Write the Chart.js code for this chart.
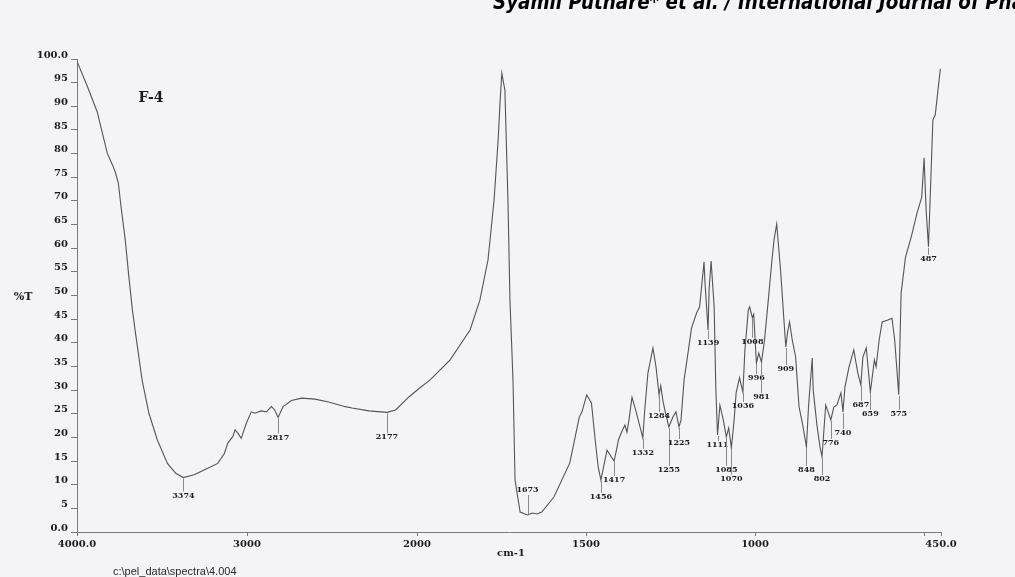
<!DOCTYPE html>
<html>
<head>
<meta charset="utf-8">
<title>FTIR spectrum F-4</title>
<script src="https://cdn.jsdelivr.net/npm/chart.js@4/dist/chart.umd.min.js"></script>
<style>
  html, body { margin: 0; padding: 0; background: #f3f3f8; }
  #wrap { position: relative; width: 1015px; height: 577px; overflow: hidden; }
</style>
</head>
<body>
<div id="wrap"><canvas id="spectrum"></canvas></div>
<script>
// Wavenumber (cm-1) of each sampled point, high to low
const wavenumbers = [
  4000, 3940, 3881, 3822, 3790, 3775, 3757, 3740, 3716, 3695,
  3674, 3656, 3617, 3577, 3528, 3468, 3419, 3374, 3311, 3231,
  3172, 3133, 3113, 3083, 3070, 3054, 3034, 3004, 2975, 2955,
  2916, 2886, 2856, 2837, 2817, 2788, 2738, 2679, 2600, 2520,
  2422, 2382, 2283, 2177, 2126, 2046, 1993, 1962, 1902, 1843,
  1814, 1790, 1772, 1760, 1754, 1749, 1740, 1731, 1725, 1716,
  1710, 1695, 1673, 1659, 1645, 1631, 1595, 1548, 1520, 1512,
  1498, 1484, 1473, 1464, 1456, 1450, 1438, 1417, 1410, 1404,
  1395, 1385, 1379, 1373, 1364, 1351, 1332, 1327, 1317, 1311,
  1302, 1293, 1284, 1279, 1272, 1265, 1255, 1243, 1234, 1225,
  1219, 1210, 1197, 1188, 1173, 1164, 1151, 1148, 1139, 1136,
  1130, 1121, 1116, 1111, 1104, 1094, 1085, 1078, 1070, 1062,
  1056, 1046, 1036, 1030, 1020, 1016, 1008, 1004, 996, 989,
  981, 972, 960, 950, 944, 936, 924, 914, 909, 904,
  898, 890, 880, 870, 859, 848, 842, 831, 828, 817,
  808, 802, 791, 784, 776, 767, 758, 746, 740, 734,
  722, 708, 696, 687, 681, 671, 659, 647, 642, 633,
  624, 607, 595, 587, 575, 568, 555, 538, 521, 507,
  500, 494, 487, 474, 467, 452
];

// %T at each wavenumber above
const transmittance = [
  99.5, 94.3, 88.8, 80.1, 77.5, 76.1, 73.8, 68.5, 61.7, 54.0,
  46.9, 42.1, 32.1, 25.1, 19.5, 14.5, 12.4, 11.5, 12.1, 13.5,
  14.5, 16.6, 18.8, 20.2, 21.6, 20.9, 19.8, 23.0, 25.4, 25.1,
  25.6, 25.4, 26.5, 25.8, 24.2, 26.5, 27.8, 28.3, 28.1, 27.5,
  26.5, 26.2, 25.6, 25.3, 25.8, 28.6, 30.4, 32.1, 36.4, 42.7,
  49.0, 57.5, 70.2, 82.9, 91.3, 97.0, 93.4, 70.2, 49.0, 32.1,
  11.0, 4.2, 3.6, 4.0, 3.8, 4.2, 7.4, 14.6, 24.3, 25.4,
  29.0, 27.3, 19.5, 13.7, 11.0, 13.1, 17.3, 15.0, 17.3, 19.5,
  21.1, 22.6, 21.1, 23.7, 28.5, 25.2, 19.9, 25.2, 33.6, 35.7,
  38.9, 34.9, 29.0, 30.9, 27.5, 25.2, 22.2, 24.3, 25.4, 22.2,
  23.7, 32.1, 38.5, 43.1, 46.3, 47.6, 57.1, 52.6, 42.7, 51.2,
  57.3, 47.6, 30.0, 20.5, 26.8, 23.7, 20.1, 22.0, 17.8, 23.7,
  29.4, 32.6, 29.6, 38.5, 46.9, 47.6, 45.3, 46.0, 35.7, 37.8,
  35.9, 40.6, 49.7, 57.5, 61.7, 65.1, 54.8, 44.2, 39.1, 42.1,
  44.4, 40.6, 37.0, 26.5, 22.6, 18.0, 26.4, 36.8, 30.0, 22.6,
  18.0, 15.9, 26.8, 25.4, 23.7, 26.4, 26.8, 29.4, 25.4, 30.7,
  34.9, 38.5, 33.6, 31.1, 37.0, 38.9, 29.6, 36.4, 34.9, 40.6,
  44.4, 44.8, 45.2, 40.6, 29.0, 50.5, 58.1, 62.4, 67.4, 70.8,
  79.1, 68.1, 60.3, 87.1, 88.2, 97.9
];

// Labelled absorption bands (cm-1)
const peakWavenumbers = [
  3374, 2817, 2177, 1673, 1456, 1417, 1332, 1284, 1255, 1225,
  1139, 1111, 1085, 1070, 1036, 1008, 996, 981, 909, 848,
  802, 776, 740, 687, 659, 575, 487
];

// Axis ticks
const xTickValues = [4000, 3000, 2000, 1500, 1000, 500, 450];
const xTickLabels = ['4000.0', '3000', '2000', '1500', '1000', '', '450.0'];
const yTickValues = [0, 5, 10, 15, 20, 25, 30, 35, 40, 45, 50, 55, 60, 65, 70, 75, 80, 85, 90, 95, 100];
const yTickLabels = ['0.0', '5', '10', '15', '20', '25', '30', '35', '40', '45', '50',
                     '55', '60', '65', '70', '75', '80', '85', '90', '95', '100.0'];

// Layout: how far (px) each peak label sits below its band (negative = above)
const peakLabelDrop = [
  18, 20, 25, -25, 17, 19, 15, 21, 43, 16,
  13, 10, 33, 31, 14, 24, 15, 35, 22, 23,
  22, 23, 21, 20, 22, 19, 12
];

const BOLD_SERIF = '"DejaVu Serif", "Liberation Serif", serif';

// Wavenumber axis with the usual FTIR scale change at 2000 cm-1:
// the low-wavenumber part is drawn on an expanded scale.
class SplitWavenumberScale extends Chart.LinearScale {
  static id = 'splitWavenumber';
  static defaults = Chart.LinearScale.defaults;

  _fraction(v) {
    const at = this.options.splitAt, f = this.options.splitFraction;
    const hi = this.max, lo = this.min;
    if (v >= at) return (hi - v) / (hi - at) * f;
    return f + (at - v) / (at - lo) * (1 - f);
  }
  getPixelForValue(v) {
    return this.left + this._fraction(v) * this.width;
  }
  getValueForPixel(p) {
    const at = this.options.splitAt, f = this.options.splitFraction;
    const t = (p - this.left) / this.width;
    if (t <= f) return this.max - (t / f) * (this.max - at);
    return at - ((t - f) / (1 - f)) * (at - this.min);
  }
}
Chart.register(SplitWavenumberScale);

function valueAt(w) {
  const i = wavenumbers.indexOf(w);
  if (i >= 0) return transmittance[i];
  for (let k = 0; k < wavenumbers.length - 1; k++) {
    const a = wavenumbers[k], b = wavenumbers[k + 1];
    if (w <= a && w >= b) {
      const t = (a - w) / (a - b);
      return transmittance[k] + t * (transmittance[k + 1] - transmittance[k]);
    }
  }
  return transmittance[transmittance.length - 1];
}

// Band labels with their short leader lines
const peakLabelPlugin = {
  id: 'peakLabels',
  afterDatasetsDraw(chart) {
    const { ctx, scales: { x, y } } = chart;
    ctx.save();
    ctx.font = 'bold 8px ' + BOLD_SERIF;
    ctx.textAlign = 'center';
    ctx.textBaseline = 'middle';
    peakWavenumbers.forEach((w, i) => {
      const px = x.getPixelForValue(w);
      const py = y.getPixelForValue(valueAt(w));
      const drop = peakLabelDrop[i];
      const ly = py + drop;
      ctx.strokeStyle = '#8a8a8e';
      ctx.lineWidth = 1;
      ctx.beginPath();
      if (drop > 0) {
        ctx.moveTo(Math.round(px) + 0.5, py + 1);
        ctx.lineTo(Math.round(px) + 0.5, ly - 4);
      } else {
        ctx.moveTo(Math.round(px) + 0.5, py - 1);
        ctx.lineTo(Math.round(px) + 0.5, ly + 5);
      }
      ctx.stroke();
      ctx.fillStyle = '#1c1c1c';
      ctx.fillText(String(w), px, ly);
    });
    ctx.restore();
  }
};

// Titles, sample name and file path
const annotationPlugin = {
  id: 'spectrumText',
  afterDraw(chart) {
    const ctx = chart.ctx;
    ctx.save();
    ctx.fillStyle = '#1c1c1c';
    ctx.textBaseline = 'middle';

    ctx.textAlign = 'center';
    ctx.font = 'bold 14px ' + BOLD_SERIF;
    ctx.fillText('F-4', 151, 98);

    ctx.font = 'bold 11px ' + BOLD_SERIF;
    ctx.fillText('%T', 23, 297);

    ctx.font = 'bold 10px ' + BOLD_SERIF;
    ctx.fillText('cm-1', 511, 553);

    ctx.textAlign = 'left';
    ctx.fillStyle = '#2a2a2a';
    ctx.font = '11px "Liberation Sans", Arial, sans-serif';
    ctx.fillText('c:\\pel_data\\spectra\\4.004', 113, 572);

    // running header of the page, clipped at the top edge
    ctx.fillStyle = '#000';
    ctx.textBaseline = 'alphabetic';
    ctx.font = 'italic bold 21px "DejaVu Sans Condensed", "Liberation Sans Narrow", "DejaVu Sans", sans-serif';
    const head = 'Syamli Puthare* et al. / International Journal of Phar';
    const wHead = ctx.measureText(head).width;
    ctx.translate(493, 9);
    ctx.scale(540 / wHead, 1);
    ctx.fillText(head, 0, 0);
    ctx.restore();
  }
};

new Chart(document.getElementById('spectrum'), {
  type: 'line',
  data: {
    datasets: [{
      data: wavenumbers.map((w, i) => ({ x: w, y: transmittance[i] })),
      borderColor: '#545458',
      borderWidth: 1.1,
      pointRadius: 0,
      tension: 0,
      fill: false
    }]
  },
  options: {
    responsive: true,
    maintainAspectRatio: false,
    devicePixelRatio: 1,
    animation: false,
    events: [],
    layout: { padding: { top: 59, right: 74, left: 0, bottom: 0 } },
    plugins: { legend: { display: false }, tooltip: { enabled: false } },
    scales: {
      x: {
        type: 'splitWavenumber',
        min: 450,
        max: 4000,
        splitAt: 2000,
        splitFraction: 340 / 864,
        afterBuildTicks(scale) { scale.ticks = xTickValues.map(v => ({ value: v })); },
        afterFit(scale) { scale.height = 45; },
        grid: { drawOnChartArea: false, drawTicks: true, tickLength: 4, color: '#777' },
        border: { display: true, color: '#7a7a7e', width: 1 },
        ticks: {
          autoSkip: false,
          maxRotation: 0,
          padding: 2,
          color: '#1c1c1c',
          font: { family: BOLD_SERIF, size: 10, weight: 'bold' },
          callback: (v, i) => xTickLabels[i]
        }
      },
      y: {
        type: 'linear',
        min: 0,
        max: 100,
        afterBuildTicks(scale) { scale.ticks = yTickValues.map(v => ({ value: v })); },
        afterFit(scale) { scale.width = 77; },
        grid: { drawOnChartArea: false, drawTicks: true, tickLength: 6, color: '#777' },
        border: { display: true, color: '#7a7a7e', width: 1 },
        ticks: {
          autoSkip: false,
          padding: 3,
          labelOffset: -4,
          color: '#1c1c1c',
          font: { family: BOLD_SERIF, size: 10, weight: 'bold' },
          callback: (v, i) => yTickLabels[i]
        }
      }
    }
  },
  plugins: [peakLabelPlugin, annotationPlugin]
});
</script>
</body>
</html>
